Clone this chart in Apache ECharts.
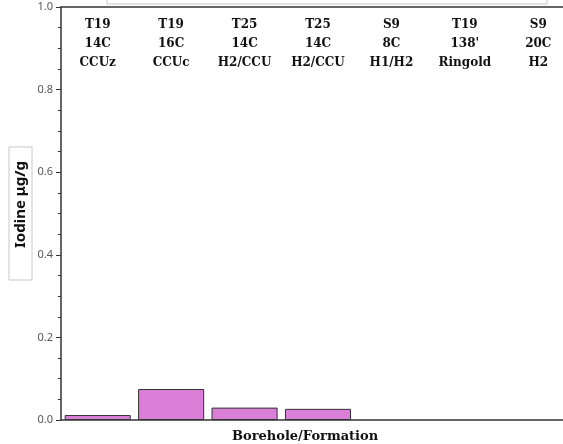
<!DOCTYPE html>
<html>
<head>
<meta charset="utf-8">
<script src="https://cdn.jsdelivr.net/npm/echarts@6/dist/echarts.min.js"></script>
<style>
  html, body { margin: 0; padding: 0; background: #fff; }
  #chart { width: 563px; height: 444px; }
</style>
</head>
<body>
<div id="chart"></div>
<script>
// borehole / formation labels, one per column
const categories = [
  'T19\n14C\nCCUz',
  'T19\n16C\nCCUc',
  'T25\n14C\nH2/CCU',
  'T25\n14C\nH2/CCU',
  'S9\n8C\nH1/H2',
  "T19\n138'\nRingold",
  'S9\n20C\nH2'
]
// iodine, µg/g (no bar drawn where null)
const iodine = [0.012, 0.075, 0.030, 0.027, null, null, null]
const yTicks = [0, 0.2, 0.4, 0.6, 0.8, 1.0]

const serif = '"DejaVu Serif", "Liberation Serif", serif'
const sans = '"Noto Sans", "DejaVu Sans", sans-serif'

const chart = echarts.init(document.getElementById('chart'), null, { renderer: 'canvas' })

chart.setOption({
  animation: false,
  backgroundColor: '#fff',
  title: {
    text: 'Borehole/Formation',
    left: 227,
    top: 425,
    textStyle: { fontFamily: serif, fontWeight: 'bold', fontSize: 13, color: '#111' }
  },
  graphic: [
    {
      // legend box mostly cut off at the top edge
      type: 'rect',
      shape: { x: 107, y: -20, width: 440, height: 24 },
      style: { fill: '#fff', stroke: '#c8c8c8', lineWidth: 1 }
    }
  ],
  grid: { left: 61, top: 7, width: 514, height: 413, outerBoundsMode: 'none', containLabel: false },
  xAxis: [
    {
      type: 'category',
      data: categories,
      position: 'bottom',
      axisLine: { lineStyle: { color: '#333', width: 1.5 } },
      axisTick: { show: false },
      axisLabel: { show: false }
    },
    {
      type: 'category',
      data: categories,
      position: 'top',
      axisLine: { lineStyle: { color: '#333', width: 1.5 } },
      axisTick: { show: false },
      axisLabel: {
        inside: true,
        margin: 8,
        fontFamily: serif,
        fontWeight: 'bold',
        fontSize: 12,
        lineHeight: 19,
        color: '#111',
        verticalAlign: 'top'
      }
    }
  ],
  yAxis: {
    type: 'value',
    min: 0,
    max: 1,
    interval: 0.2,
    name: 'Iodine μg/g',
    nameLocation: 'middle',
    nameGap: 29,
    nameRotate: 90,
    nameMoveOverlap: false,
    nameTextStyle: {
      fontFamily: sans,
      fontWeight: 'bold',
      fontSize: 15,
      color: '#111',
      borderColor: '#c8c8c8',
      borderWidth: 1,
      borderRadius: 0,
      padding: [4, 14, 4, 32]
    },
    axisLine: { show: true, lineStyle: { color: '#333', width: 1.5 } },
    axisTick: { show: true, length: 5, lineStyle: { color: '#333' } },
    minorTick: { show: true, splitNumber: 4, length: 3, lineStyle: { color: '#333' } },
    splitLine: { show: false },
    axisLabel: {
      fontFamily: sans,
      fontSize: 11,
      color: '#555',
      margin: 8,
      formatter: v => (yTicks.includes(Math.round(v * 10) / 10) ? v.toFixed(1) : '')
    }
  },
  series: [
    {
      type: 'bar',
      data: iodine,
      barCategoryGap: '10%',
      itemStyle: { color: '#d97fd7', borderColor: '#333', borderWidth: 1 }
    }
  ]
})
</script>
</body>
</html>
